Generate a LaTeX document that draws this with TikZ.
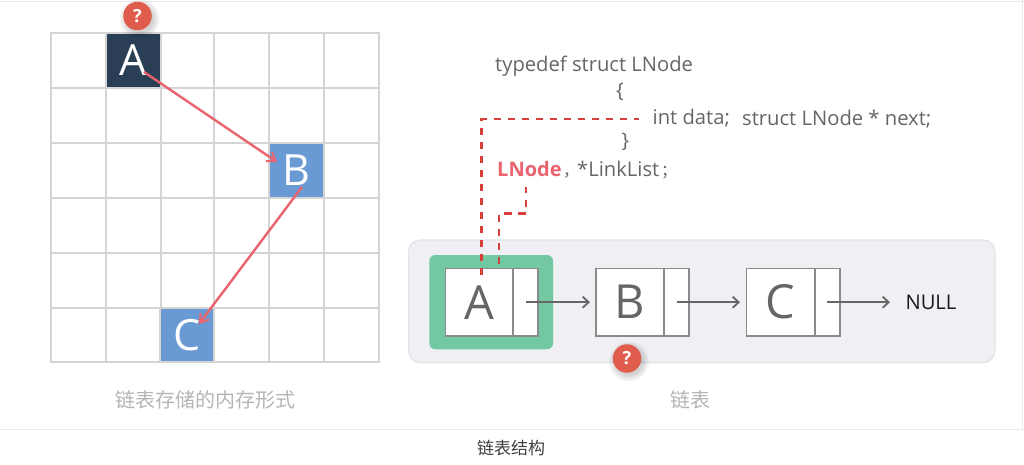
\documentclass[tikz,border=0pt]{standalone}
\usepackage{fontspec}
\setmainfont{Open Sans}
\newfontfamily\cjk{Noto Sans CJK SC}
\usetikzlibrary{arrows.meta}
\definecolor{gridc}{HTML}{D4D4D4}
\definecolor{navyc}{HTML}{2A3F56}
\definecolor{bluec}{HTML}{6A9AD4}
\definecolor{redl}{HTML}{E9646F}
\definecolor{dashc}{HTML}{D63F3A}
\definecolor{badge}{HTML}{E05C4D}
\definecolor{txt}{HTML}{666666}
\definecolor{boxc}{HTML}{8A8A8A}
\definecolor{panel}{HTML}{EFEFF4}
\definecolor{panelb}{HTML}{E3E3E8}
\definecolor{greenc}{HTML}{72C8A0}
\definecolor{capc}{HTML}{B5B5B5}
\tikzset{
  memcell/.style={draw=gridc,line width=2pt,minimum width=54.5pt,minimum height=54.5pt,inner sep=0pt,text=white,font=\fontsize{43}{43}\selectfont},
  gridline/.style={draw=gridc,line width=2pt},
  redarrow/.style={draw=redl,line width=2.4pt,-{Straight Barb[length=8pt,width=11pt,line width=2pt]}},
  dashline/.style={draw=dashc,line width=2.5pt,dash pattern=on 7.5pt off 6.5pt},
  nextarrow/.style={draw=txt,line width=1.8pt,-{Straight Barb[length=6pt,width=11pt,line width=1.8pt]}},
  databox/.style={draw=boxc,line width=1.8pt,fill=white,minimum width=68pt,minimum height=67.5pt,inner sep=0pt,text=txt,font=\fontsize{47}{47}\selectfont},
  ptrbox/.style={draw=boxc,line width=1.8pt,fill=white,minimum width=25pt,minimum height=67.5pt,inner sep=0pt},
  code/.style={inner sep=0pt,text=txt,font=\fontsize{20.2}{22}\selectfont},
  badgec/.style={circle,fill=badge,minimum size=28.5pt,inner sep=0pt,text=white,font=\fontsize{18}{18}\selectfont\bfseries},
  caption/.style={inner sep=0pt,text=capc,font=\cjk\fontsize{20}{20}\selectfont}
}
\begin{document}
\begin{tikzpicture}[x=1pt,y=-1pt]
\useasboundingbox (0,0) rectangle (1024,464);
\fill[white] (0,0) rectangle (1024,464);
\draw[draw=gridc!50,line width=1pt] (0,1) -- (1024,1);
\draw[draw=gridc!50,line width=1pt] (0,429.7) -- (1024,429.7);
\draw[draw=gridc!50,line width=1pt] (1022.7,0) -- (1022.7,429.7);
% memory grid
\draw[gridline] (51,33) rectangle (379,362);
\foreach \gx in {106,161,214,269,324} \draw[gridline] (\gx,33) -- (\gx,362);
\foreach \gy in {88,143,198,253,308} \draw[gridline] (51,\gy) -- (379,\gy);
\node[memcell,fill=navyc] (ma) at (133.5,60.5) {A};
\node[memcell,fill=bluec] (mb) at (296.5,170.5) {B};
\node[memcell,fill=bluec] (mc) at (187,335) {C};
\coordinate (maout) at (144,72);
\coordinate (mbin) at (277,162);
\coordinate (mbout) at (302,187);
\coordinate (mcin) at (199,324);
\draw[redarrow] (maout) -- (mbin);
\draw[redarrow] (mbout) -- (mcin);
\foreach \r in {20,18.5,17,15.5,14} \fill[black,opacity=.035] (139.5,19) circle[radius=\r];
\node[badgec] (q1) at (137.5,16) {?};
% code
\node[code,anchor=base west] (c1) at (495,71) {typedef struct LNode};
\node[code,anchor=base] (c2) at (620,97) {\{};
\node[code,anchor=base west] (c3) at (652.5,124) {int data;};
\node[code,anchor=base west] (c4) at (742,125.5) {struct LNode * next;};
\node[code,anchor=base] (c5) at (625.5,147) {\}};
\node[code,anchor=base west,text=redl,font=\fontsize{20}{22}\selectfont\bfseries] (c6) at (497,176.5) {LNode};
\node[code,anchor=base west,font=\cjk\fontsize{16}{20}\selectfont] (c7) at (563,176) {，};
\node[code,anchor=base west] (c8) at (577,176.5) {*LinkList};
\node[code,anchor=base west,font=\cjk\fontsize{16}{20}\selectfont] (c9) at (661,176) {；};
% list panel
\draw[draw=panelb,fill=panel,line width=1.2pt,rounded corners=12pt] (408.5,240) rectangle (995,362.7);
\fill[greenc,rounded corners=6pt] (429.3,255) rectangle (553,349.3);
\node[databox] (a) at (479.4,302.2) {A};
\node[ptrbox] (ap) at (525.8,302.2) {};
\node[databox] (b) at (629.8,302.2) {B};
\node[ptrbox] (bp) at (676.5,302.2) {};
\node[databox] (c) at (780.5,302.2) {C};
\node[ptrbox] (cp) at (827.2,302.2) {};
\node[inner sep=0pt,font=\fontsize{20.2}{22}\selectfont,text=black!90,anchor=base] (nul) at (931,309) {NULL};
\coordinate (bt) at (590,302.2);
\coordinate (ct) at (740,302.2);
\coordinate (nt) at (890,302.2);
\draw[nextarrow] (ap.center) -- (bt);
\draw[nextarrow] (bp.center) -- (ct);
\draw[nextarrow] (cp.center) -- (nt);
\foreach \r in {20,18.5,17,15.5,14} \fill[black,opacity=.035] (629,361.5) circle[radius=\r];
\node[badgec] (q2) at (627,358.5) {?};
% dashed links
\coordinate (d1s) at (481.7,275);
\coordinate (d1e) at (639,119);
\coordinate (d2s) at (499,264);
\coordinate (d2e) at (526,186.5);
\draw[dashline] (d1s) |- (d1e);
\draw[dashline] (d2s) -- (499,213.3) -- (526,213.3) -- (d2e);
% captions
\node[caption] (t1) at (205.5,400) {链表存储的内存形式};
\node[caption] (t2) at (690,400) {链表};
\node[caption,text=black!75,font=\cjk\fontsize{17}{17}\selectfont] (t3) at (511,448) {链表结构};
\end{tikzpicture}
\end{document}
